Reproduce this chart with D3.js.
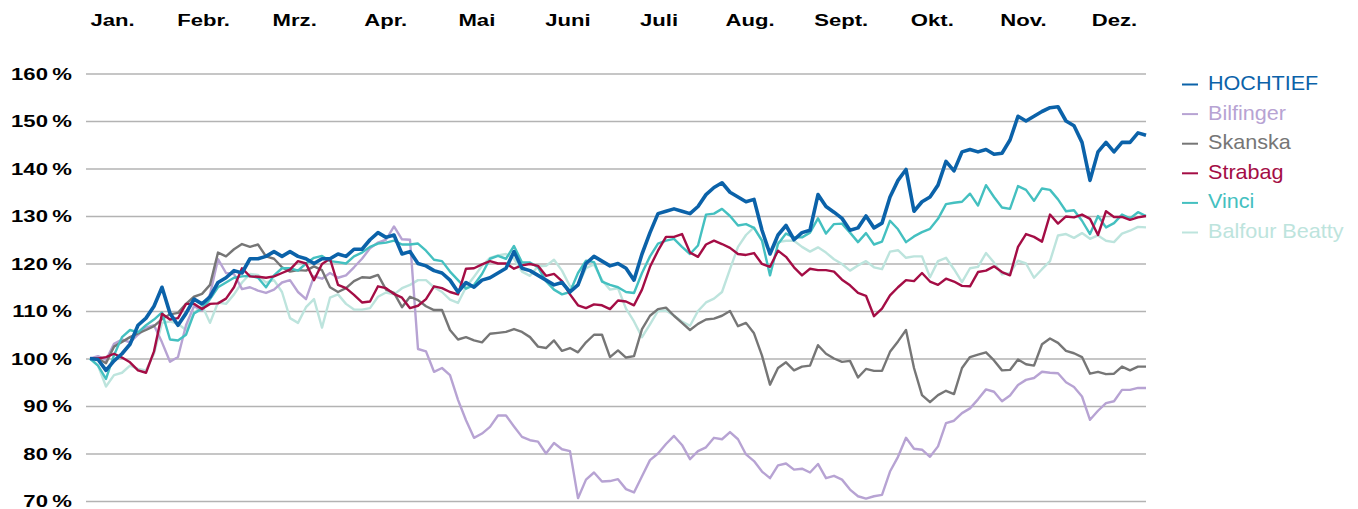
<!DOCTYPE html>
<html>
<head>
<meta charset="utf-8">
<script src="https://cdn.jsdelivr.net/npm/d3@7"></script>
<style>
  body { margin: 0; background: #fff; }
  svg { display: block; }
</style>
</head>
<body>
<div id="chart"></div>
<script>
// Kursentwicklung im Jahresverlauf, indexiert auf 100 % (Jan.)
const months = ["Jan.", "Febr.", "Mrz.", "Apr.", "Mai", "Juni", "Juli", "Aug.", "Sept.", "Okt.", "Nov.", "Dez."];
const yTicks = [70, 80, 90, 100, 110, 120, 130, 140, 150, 160];

const names = ["HOCHTIEF", "Bilfinger", "Skanska", "Strabag", "Vinci", "Balfour Beatty"];
const colors = ["#0b62a9", "#b7a3d3", "#767676", "#a40d45", "#44c0c0", "#bde4dd"];

const hochtief = [
  100, 99.8, 97.5, 99.5, 101, 103, 107, 108.5, 111, 115,
  109.5, 107, 109.5, 112.5, 111.5, 113, 116, 117, 118.5, 118,
  121, 121, 121.5, 122.5, 121.5, 122.5, 121.5, 121, 120, 121,
  121, 122, 121.5, 123, 123, 125, 126.5, 125.5, 126, 122,
  122.5, 120, 119.5, 118.5, 118, 116.5, 114, 116, 115, 116.5,
  117, 118, 119, 122.5, 119, 118.5, 117.5, 116.5, 115.5, 116,
  114, 115.5, 120, 121.5, 120.5, 119.5, 120, 119, 116.5, 122,
  126.5, 130.5, 131, 131.5, 131, 130.5, 132, 134.5, 136, 137,
  135, 134, 133, 133.5, 127, 122, 126, 128, 125, 126.5,
  127, 134.5, 132, 130.8, 129.5, 127, 127.5, 130, 127.5, 128.5,
  134, 137.5, 139.8, 131, 133, 134, 136.5, 141.5, 139.5, 143.5,
  144, 143.5, 144, 143, 143.2, 146, 151, 150, 151, 152,
  152.8, 153, 150, 149, 145.5, 137.5, 143.5, 145.5, 143.5, 145.5,
  145.5, 147.5, 147
];

const bilfinger = [
  100, 100.5, 99.7, 103.1, 104, 103.4, 105, 106.5, 107, 103.4,
  99.3, 100.3, 107, 111, 110.1, 113.5, 120.9, 118, 117.8, 114.6,
  115, 114.3, 113.8, 114.5, 116, 116.5, 114, 112.5, 117.3, 116.8,
  118, 117, 117.5, 119.2, 121, 123.2, 124.4, 125, 127.8, 125.1,
  125, 102, 101.5, 97.2, 98, 96.5, 91.3, 87, 83.3, 84.2,
  85.6, 88, 88, 85.7, 83.5, 82.8, 82.5, 80, 82.2, 80.9,
  80.5, 70.6, 74.5, 76, 74.1, 74.2, 74.6, 72.5, 71.8, 75.2,
  78.6, 80, 82, 83.7, 81.8, 78.8, 80.5, 81.3, 83.3, 83,
  84.5, 83, 79.8, 78.4, 76.2, 74.8, 77.5, 77.9, 76.6, 76.8,
  76, 77.8, 74.8, 75.3, 74.5, 72.4, 71, 70.5, 71, 71.3,
  76.2, 79.3, 83.3, 81, 80.8, 79.3, 81.5, 86.4, 86.9, 88.5,
  89.5, 91.4, 93.5, 93, 91, 92.2, 94.4, 95.5, 95.9, 97.2,
  97, 96.9, 95, 94, 92, 87.1, 89, 90.6, 91, 93.4,
  93.4, 93.8, 93.8
];

const skanska = [
  100, 100, 99, 102.5, 103.5, 104.5, 105.3, 106, 106.8, 108.3,
  109.3, 109.6, 111.5, 113, 113.6, 115.5, 122.3, 121.5, 123, 124.1,
  123.5, 124, 121.5, 121, 119.2, 118.3, 118.6, 118.5, 119.4, 118.6,
  115, 114, 114.8, 116.3, 117.1, 117, 117.6, 114.5, 113.8, 110.8,
  113, 112.3, 111, 110.2, 110.2, 106, 104, 104.5, 103.8, 103.4,
  105.2, 105.4, 105.6, 106.2, 105.6, 104.5, 102.5, 102.2, 103.8, 101.6,
  102.2, 101.3, 103.4, 105, 105, 100.3, 101.7, 100.2, 100.5, 106.2,
  109, 110.4, 110.7, 109, 107.5, 106, 107.3, 108.2, 108.4, 109,
  110, 106.8, 107.5, 105.3, 100.6, 94.5, 98, 99.2, 97.5, 98.3,
  98.5, 102.8, 101, 100, 99.3, 99.5, 96, 97.8, 97.4, 97.4,
  101.4, 103.6, 106, 98, 92.3, 90.8, 92.3, 93.2, 92.5, 98,
  100.3, 100.8, 101.3, 99.6, 97.5, 97.6, 99.8, 98.8, 98.5, 103,
  104.2, 103.3, 101.6, 101.1, 100.3, 96.8, 97.2, 96.7, 96.8, 98.3,
  97.5, 98.3, 98.3
];

const strabag = [
  100, 100, 100.3, 101, 100.2, 99.2, 97.5, 97, 101.5, 109.4,
  108.2, 108.5, 111.5, 111.5, 110.4, 111.5, 111.6, 112.6, 115, 119,
  117.3, 117.2, 117, 117.3, 118, 118.7, 120.5, 120, 116.5, 119.9,
  121, 115.5, 114.8, 113.4, 111.8, 112, 115.2, 114.8, 113.6, 112.8,
  110.6, 111.1, 112.5, 115.2, 114.8, 114, 113.5, 118.9, 119, 119.8,
  120.5, 120, 120, 118.9, 119.6, 119.9, 119.5, 117.4, 117.8, 116.3,
  113.5, 111.2, 110.6, 111.4, 111.2, 110.4, 112.2, 112, 111.2, 114.5,
  119.3, 122.7, 125.6, 125.6, 126.2, 122.3, 121.4, 124, 124.8, 124.1,
  123.3, 122, 121.8, 122.2, 119.9, 119.3, 122.7, 121.4, 119.2, 117.5,
  118.9, 118.6, 118.6, 118.3, 116.6, 115.4, 113.8, 113.2, 108.9, 110.5,
  113.3, 115, 116.5, 116.3, 118, 116.2, 115.5, 116.8, 116.2, 115.3,
  115.2, 118.2, 118.5, 119.4, 118.2, 117.5, 123.5, 126.2, 125.6, 124.6,
  130.3, 128.4, 129.9, 129.7, 130.3, 129.4, 126, 131, 129.8, 129.8,
  129.2, 129.7, 130
];

const vinci = [
  100, 98.5, 95.7, 100.7, 104.5, 106, 105.5, 107, 108.2, 109.7,
  104, 103.8, 105, 109.5, 110.5, 112.5, 115, 116, 117, 117.3,
  117.4, 117, 115, 117.5, 119, 119, 118.5, 120, 121.2, 121.6,
  120.5, 120.3, 120, 121.5, 122.3, 123.5, 124.2, 124.4, 124.8, 124,
  124, 124.2, 122.7, 120.8, 120.5, 118.3, 116.5, 114.7, 115.5, 117.8,
  121, 121.6, 121, 123.7, 120.2, 120.2, 119.2, 116.3, 114.5, 113.5,
  114, 118, 120.6, 120.3, 116.2, 115.5, 115, 114, 113.8, 118,
  121.5, 124.2, 124.8, 125.2, 123.5, 122, 123.8, 130.3, 130.5, 131.5,
  130, 128, 128.3, 127.5, 124.8, 117.5, 124.1, 126.3, 125.5, 125.5,
  126.5, 129.5, 126.3, 128.3, 128.4, 126.5, 124.5, 126.4, 124, 124.6,
  129, 127.2, 124.5, 125.7, 126.6, 127.3, 129.4, 132.5, 132.8, 133,
  134.7, 132.2, 136.5, 134, 131.8, 131.5, 136.3, 135.5, 133.2, 135.8,
  135.5, 133.5, 131, 131.2, 129, 126.2, 130, 127.6, 128.5, 130.3,
  129.5, 130.8, 130
];

const balfour = [
  100, 98.5, 94.1, 96.5, 97, 98.5, 97.8, 97.5, 101, 107.5,
  107.8, 107.3, 106, 109.5, 111.2, 107.5, 111.8, 111.5, 113.5, 116,
  117.8, 117.6, 116, 116.5, 114, 108.5, 107.5, 110.8, 112.5, 106.5,
  112.8, 113.5, 111.5, 110.3, 110.3, 110.6, 113, 113.9, 113.5, 114.8,
  115.5, 116.5, 116.5, 115, 114, 112.4, 111.7, 115, 117.2, 119.5,
  121.2, 121.7, 122, 121, 118.3, 117.4, 119.4, 119.5, 120.8, 118.5,
  115.2, 115.3, 119, 119.8, 116.5, 114.5, 114.8, 110.5, 107.8, 104.5,
  107.2, 110, 110.1, 109, 107.8, 106.9, 110, 111.8, 112.6, 114,
  118.8, 123.5, 126, 127.6, 124.8, 122.5, 124.5, 124.8, 124.8, 123.5,
  122.5, 123.4, 122.3, 120.9, 119.9, 118.5, 119.6, 120.5, 119.2, 118.8,
  122.5, 122.8, 121.2, 121.5, 121.5, 117.1, 120.5, 121.2, 118.8, 116.1,
  119, 119.3, 122.2, 120.2, 117.7, 118, 120.6, 120, 117, 118.8,
  120.5, 125.9, 126.2, 125.4, 126.4, 125.2, 125.9, 124.8, 124.5, 126.3,
  126.9, 127.7, 127.6
];

const values = [hochtief, bilfinger, skanska, strabag, vinci, balfour];
// bottom to top drawing order
const drawOrder = [5, 1, 2, 4, 3, 0];

const W = 1358, H = 509;
const plotLeft = 86, plotRight = 1146;
const fontFam = "'Liberation Sans', Arial, Helvetica, sans-serif";

const svg = d3.select("#chart").append("svg")
  .attr("width", W).attr("height", H).attr("viewBox", `0 0 ${W} ${H}`);

const x = d3.scaleLinear().domain([0, hochtief.length - 1]).range([90, plotRight]);
const y = d3.scaleLinear().domain([70, 160]).range([501, 73.5]);
const xm = d3.scalePoint().domain(months).range([112, 1114]);

// grid + y labels
const yAxis = svg.append("g")
  .attr("transform", `translate(${plotLeft},0)`)
  .call(d3.axisLeft(y).tickValues(yTicks).tickSize(-(plotRight - plotLeft)).tickFormat(d => d + "\u2009%"));
yAxis.select(".domain").remove();
yAxis.selectAll(".tick line").attr("stroke", "#b3b3b3").attr("stroke-width", 1.6);
const sy = 1.3;
yAxis.selectAll(".tick text")
  .attr("x", -14 / sy).attr("dy", null).attr("y", 5.5)
  .attr("transform", `scale(${sy},1)`)
  .attr("fill", "#000").style("font-family", fontFam).style("font-size", "17px").style("font-weight", "bold");

// month labels
const mAxis = svg.append("g")
  .attr("transform", "translate(0,26)")
  .call(d3.axisTop(xm).tickSize(0).tickPadding(0));
mAxis.select(".domain").remove();
mAxis.selectAll(".tick text")
  .attr("transform", "scale(1.3,1)")
  .attr("fill", "#000").style("font-family", fontFam).style("font-size", "17px").style("font-weight", "bold");

// lines
const line = d3.line().x((d, i) => x(i)).y(d => y(d));
svg.append("g").selectAll("path").data(drawOrder).join("path")
  .attr("d", k => line(values[k]))
  .attr("fill", "none")
  .attr("stroke", k => colors[k])
  .attr("stroke-width", k => k === 0 ? 3.6 : 2.4)
  .attr("stroke-linejoin", "round");

// legend
const ly = d3.scaleLinear().domain([0, names.length - 1]).range([90, 238]);
const leg = svg.append("g").selectAll("g").data(names).join("g")
  .attr("transform", (d, i) => `translate(1182,${ly(i)})`);
leg.append("line")
  .attr("x1", 0).attr("x2", 16).attr("y1", -5.5).attr("y2", -5.5)
  .attr("stroke", (d, i) => colors[i]).attr("stroke-width", 2);
leg.append("text")
  .attr("transform", "translate(26,0) scale(1.08,1)")
  .attr("fill", (d, i) => colors[i])
  .style("font-family", fontFam).style("font-size", "20px")
  .text(d => d);
</script>
</body>
</html>
